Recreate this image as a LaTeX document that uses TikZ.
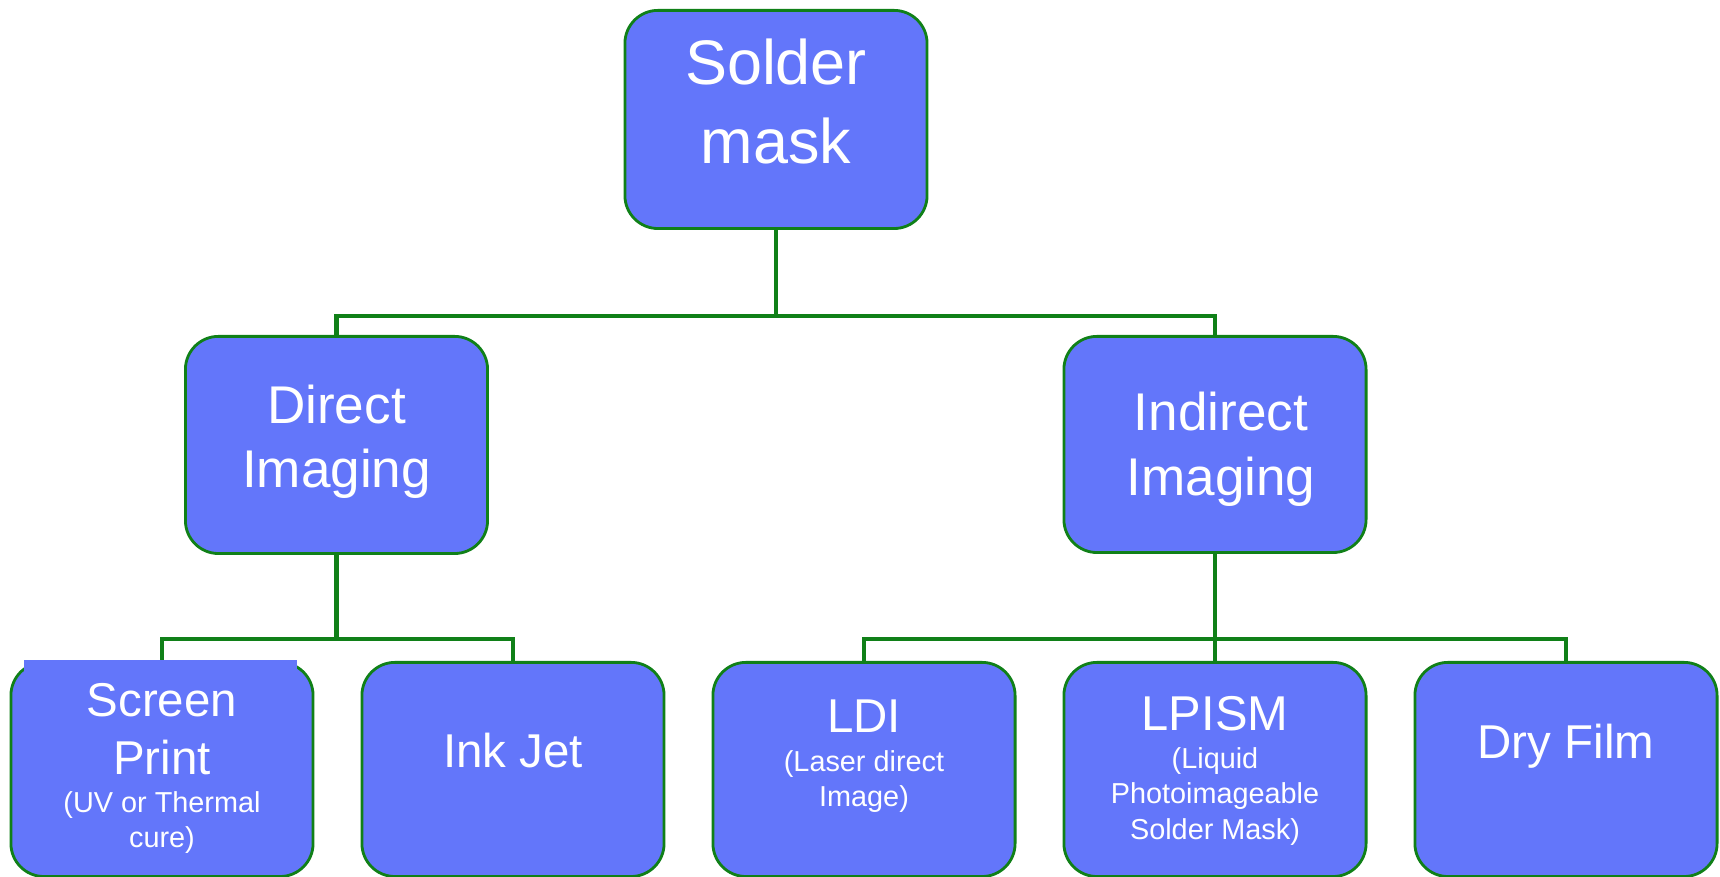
\documentclass[tikz,border=0pt]{standalone}
\usepackage{fontspec}
\setmainfont{Liberation Sans}
\usetikzlibrary{positioning}
\definecolor{maskblue}{RGB}{99,118,250}
\definecolor{maskgreen}{RGB}{16,128,24}

\begin{document}
\begin{tikzpicture}[x=0.01cm,y=-0.01cm,
    box/.style={draw=maskgreen,line width=0.8pt,fill=maskblue,rounded corners=0.33cm,inner sep=0pt,anchor=north,text=white},
    link/.style={draw=maskgreen,line width=1.2pt}]
    \useasboundingbox[fill=white] (0,0) rectangle (1720,877);

    % Top level
    \node[box] (mask) at (776,9) {
        \begin{minipage}[t][2.18cm][t]{3.02cm}\centering
        \vspace*{0.28cm}
        \fontsize{17.9}{22.5}\selectfont Solder\\mask
        \end{minipage}
    };

    % Direct imaging
    \node[box] (direct) at (336.5,335) {
        \begin{minipage}[t][2.17cm][t]{3.02cm}\centering
        \vspace*{0.49cm}
        \fontsize{15.1}{18.2}\selectfont Direct\\Imaging
        \end{minipage}
    };

    % Indirect imaging
    \node[box] (indirect) at (1215,335) {
        \begin{minipage}[t][2.16cm][t]{3.02cm}\centering
        \vspace*{0.56cm}
        \fontsize{15.1}{18.5}\selectfont \hspace*{0.12cm}Indirect\\\hspace*{0.12cm}Imaging
        \end{minipage}
    };

    % Screen print
    \node[box] (screen) at (162,661) {
        \begin{minipage}[t][2.14cm][t]{3.02cm}\centering
        \vspace*{0.21cm}
        {\fontsize{13.5}{16.5}\selectfont Screen\\Print\par}
        \vspace{0.03cm}
        {\fontsize{8.2}{10}\selectfont (UV or Thermal\\cure)\par}
        \end{minipage}
    };

    % Ink jet
    \node[box] (inkjet) at (513,661) {
        \begin{minipage}[t][2.14cm][t]{3.02cm}\centering
        \vspace*{0.71cm}
        \fontsize{13.5}{16.5}\selectfont Ink Jet
        \end{minipage}
    };

    % LDI
    \node[box] (ldi) at (864,661) {
        \begin{minipage}[t][2.14cm][t]{3.02cm}\centering
        \vspace*{0.37cm}
        {\fontsize{13.5}{16.5}\selectfont LDI\par}
        \vspace{0.04cm}
        {\fontsize{8.2}{10}\selectfont (Laser direct\\Image)\par}
        \end{minipage}
    };

    % LPISM
    \node[box] (lpism) at (1215,661) {
        \begin{minipage}[t][2.14cm][t]{3.02cm}\centering
        \vspace*{0.34cm}
        {\fontsize{13.9}{16.5}\selectfont LPISM\par}
        \vspace{0.03cm}
        {\fontsize{8.2}{10}\selectfont (Liquid\\Photoimageable\\Solder Mask)\par}
        \end{minipage}
    };

    % Dry film
    \node[box] (dryfilm) at (1566,661) {
        \begin{minipage}[t][2.14cm][t]{3.02cm}\centering
        \vspace*{0.62cm}
        \fontsize{13.5}{16.5}\selectfont Dry Film
        \end{minipage}
    };

    % Connectors
    \draw[link] (mask.south) -- ++(0,86) -| (direct.north);
    \draw[link] (mask.south) -- ++(0,86) -| (indirect.north);
    \draw[link] (direct.south) -- ++(0,84) -| (screen.north);
    \draw[link] (direct.south) -- ++(0,84) -| (inkjet.north);
    \draw[link] (indirect.south) -- ++(0,85) -| (ldi.north);
    \draw[link] (indirect.south) -- (lpism.north);
    \draw[link] (indirect.south) -- ++(0,85) -| (dryfilm.north);

    % square patch over the top of the screen print box
    \fill[maskblue] (24,660) rectangle (297,672);
\end{tikzpicture}
\end{document}
